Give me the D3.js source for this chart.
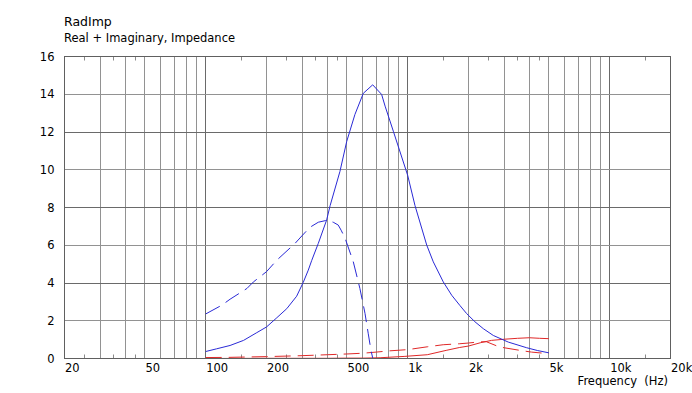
<!DOCTYPE html>
<html>
<head>
<meta charset="utf-8">
<script src="https://cdn.jsdelivr.net/npm/d3@7"></script>
<style>
  body { margin: 0; background: #fff; }
  text { font-family: "DejaVu Sans", Verdana, sans-serif; fill: #000; }
</style>
</head>
<body>
<div id="chart"></div>
<script>
// axis values
const yTicks = [0, 2, 4, 6, 8, 10, 12, 14, 16];
const yDark = [4, 8, 12];
const freqTicks = [20, 50, 100, 200, 500, 1000, 2000, 5000, 10000, 20000];
const freqLabels = ["20", "50", "100", "200", "500", "1k", "2k", "5k", "10k", "20k"];
const gridFreqs = [30, 40, 50, 60, 70, 80, 90, 100, 200, 300, 400, 500, 600, 700, 800, 900,
  1000, 2000, 3000, 4000, 5000, 6000, 7000, 8000, 9000, 10000];
const darkFreqs = [100, 1000, 10000];
const minorFreqs = [25, 35, 45, 150, 250, 350, 450, 1500, 2500, 3500, 4500, 15000];

// blue solid
const blueSolidF = [100, 113, 132, 154, 179, 200, 225, 252, 282, 304, 322, 335, 361, 397, 413, 462, 499,
  548, 603, 671, 743, 773, 849, 1000, 1087, 1242, 1339, 1500, 1652, 1816, 1958, 2150, 2368, 2654,
  3148, 3882, 4400, 5000];
const blueSolidV = [0.37, 0.51, 0.69, 0.96, 1.37, 1.67, 2.16, 2.64, 3.3, 4.03, 4.68, 5.2, 6.1, 7.34, 8.1, 9.91, 11.5,
  12.93, 14.05, 14.5, 13.99, 13.37, 12.04, 9.7, 8.1, 6.01, 5.12, 4.06, 3.35, 2.8, 2.38, 1.95, 1.58, 1.22,
  0.87, 0.57, 0.42, 0.3];

// blue dashed
const blueDashF = [100, 120, 132, 160, 172, 200, 225, 277, 299, 328, 361, 397, 428, 453, 468, 490,
  538, 580, 615, 638, 658, 671];
const blueDashV = [2.36, 2.82, 3.14, 3.71, 4.05, 4.6, 5.21, 6.1, 6.49, 6.95, 7.22, 7.32, 7.22, 7.07, 6.8, 6.37,
  5.12, 3.71, 2.38, 1.31, 0.43, 0.03];

// red solid
const redSolidF = [100, 200, 300, 400, 500, 600, 730, 960, 1250, 1550, 1800, 2000, 2300, 2600, 3000, 3500, 4000, 4500, 5000];
const redSolidV = [0.0, 0.01, 0.01, 0.01, 0.02, 0.02, 0.04, 0.11, 0.2, 0.43, 0.58, 0.66, 0.84, 0.96, 1.02, 1.07, 1.1, 1.07, 1.05];

// red dashed
const redDashF = [100, 130, 200, 300, 400, 500, 600, 700, 800, 1000, 1250, 1500, 1800, 2000, 2250, 2450, 2800, 3000, 3600, 4100, 4700, 5000];
const redDashV = [0.05, 0.06, 0.1, 0.15, 0.2, 0.24, 0.28, 0.34, 0.4, 0.47, 0.62, 0.73, 0.78, 0.82, 0.88, 0.89, 0.64, 0.57, 0.43, 0.34, 0.28, 0.27];

const series = [
  { f: redSolidF, v: redSolidV, colour: "#e02828", dash: null },
  { f: redDashF, v: redDashV, colour: "#e02828", dash: "16,7" },
  { f: blueSolidF, v: blueSolidV, colour: "#2a2ad6", dash: null },
  { f: blueDashF, v: blueDashV, colour: "#2a2ad6", dash: "16,7" }
];

const width = 692;
const height = 393;
const plotLeft = 64.5, plotRight = 670.5, plotTop = 56.5, plotBottom = 358.5;

const x = d3.scaleLog().domain([20, 20000]).range([plotLeft, plotRight]);
const y = d3.scaleLinear().domain([0, 16]).range([plotBottom, plotTop]);
const px = v => Math.round(v - 0.5) + 0.5;

const svg = d3.select("#chart").append("svg")
  .attr("width", width)
  .attr("height", height);

// titles
svg.append("text").attr("x", 64).attr("y", 26).style("font-size", "12.5px").text("RadImp");
svg.append("text").attr("x", 64).attr("y", 42).style("font-size", "11.5px").text("Real + Imaginary, Impedance");

// grid
const grid = svg.append("g").attr("class", "grid");
grid.selectAll(".vgrid").data(gridFreqs).enter().append("line")
  .attr("x1", d => px(x(d))).attr("x2", d => px(x(d)))
  .attr("y1", plotTop).attr("y2", plotBottom)
  .style("stroke", d => darkFreqs.includes(d) ? "#6a6a6a" : "#929292")
  .style("stroke-width", 1);
grid.selectAll(".hgrid").data(yTicks.filter(d => d > 0 && d < 16)).enter().append("line")
  .attr("x1", plotLeft).attr("x2", plotRight)
  .attr("y1", d => px(y(d))).attr("y2", d => px(y(d)))
  .style("stroke", d => yDark.includes(d) ? "#6a6a6a" : "#929292")
  .style("stroke-width", 1);

// minor ticks at top and bottom
["top", "bottom"].forEach(side => {
  grid.selectAll(".mt-" + side).data(minorFreqs).enter().append("line")
    .attr("x1", d => px(x(d))).attr("x2", d => px(x(d)))
    .attr("y1", side === "top" ? plotTop : plotBottom)
    .attr("y2", side === "top" ? plotTop + 4 : plotBottom - 4)
    .style("stroke", "#8a8a8a");
});

// curves
const plot = svg.append("g");
series.forEach(s => {
  const pts = s.f.map((f, i) => [f, s.v[i]]);
  const line = d3.line().x(d => x(d[0])).y(d => y(d[1]));
  plot.append("path")
    .datum(pts)
    .attr("d", line)
    .style("fill", "none")
    .style("stroke", s.colour)
    .style("stroke-width", 1)
    .style("stroke-dasharray", s.dash);
});

// frame
svg.append("rect")
  .attr("x", plotLeft).attr("y", plotTop)
  .attr("width", plotRight - plotLeft).attr("height", plotBottom - plotTop)
  .style("fill", "none").style("stroke", "#606060");

// axes labels
const yAxis = d3.axisLeft(y).tickValues(yTicks).tickSize(0).tickPadding(10);
const ya = svg.append("g").attr("transform", `translate(${plotLeft},0)`).call(yAxis);
ya.select(".domain").remove();
ya.selectAll("text").style("font-size", "11.5px").style("font-family", "DejaVu Sans, sans-serif");

const xAxis = d3.axisBottom(x).tickValues(freqTicks)
  .tickFormat((d, i) => freqLabels[i]).tickSize(0).tickPadding(5);
const xa = svg.append("g").attr("transform", `translate(0,${plotBottom})`).call(xAxis);
xa.select(".domain").remove();
xa.selectAll("text")
  .attr("text-anchor", "start")
  .style("font-size", "11.5px")
  .style("font-family", "DejaVu Sans, sans-serif");

svg.append("text")
  .attr("x", 668).attr("y", 385)
  .attr("text-anchor", "end")
  .style("font-size", "11.5px")
  .style("white-space", "pre")
  .attr("xml:space", "preserve")
  .text("Frequency  (Hz)");
</script>
</body>
</html>
